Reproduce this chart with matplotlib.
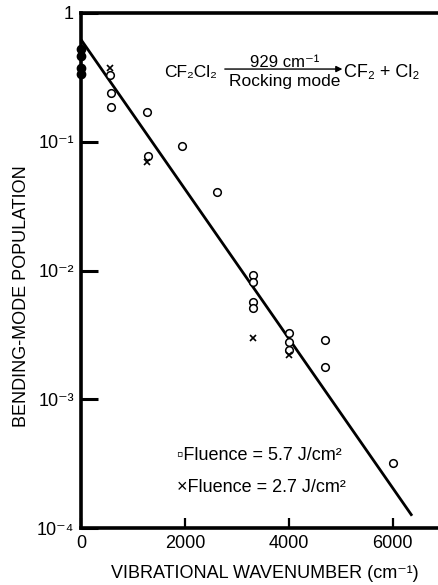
import numpy as np
import matplotlib
matplotlib.use("Agg")
from matplotlib import pyplot as plt
from matplotlib.ticker import FixedLocator, FixedFormatter

plt.rcParams['font.family'] = ['Liberation Sans', 'DejaVu Sans']

# fluence 5.7 J/cm2 (open circles)
wn_57 = [560, 575, 575, 1270, 1290, 1940, 2620, 3300, 3300, 3300, 3300,
         4000, 4000, 4000, 4690, 4690, 6000]
pop_57 = [0.33, 0.24, 0.187, 0.171, 0.078, 0.092, 0.041, 0.0092, 0.0081,
          0.0057, 0.0051, 0.0033, 0.0028, 0.0024, 0.0029, 0.0018, 3.2e-4]

# fluence 2.7 J/cm2 (crosses)
wn_27 = [560, 1270, 3300, 4000]
pop_27 = [0.375, 0.069, 0.0030, 0.0022]

# points sitting on the v=0 axis
wn_0 = [0, 0, 0, 0]
pop_0 = [0.52, 0.465, 0.375, 0.337]

# straight-line fit on the log plot
fit_wn = [0, 6370]
fit_pop = [0.62, 1.25e-4]

y_ticks = [1e-4, 1e-3, 1e-2, 1e-1, 1]
y_labels = ['10⁻⁴', '10⁻³', '10⁻²', '10⁻¹', '1']
x_ticks = [0, 2000, 4000, 6000]
x_labels = ['0', '2000', '4000', '6000']

fig = plt.figure(figsize=(4.38, 5.85), dpi=100)
ax = fig.add_axes([0.185, 0.097, 0.815, 0.881])

ax.plot(fit_wn, fit_pop, color='black', lw=2.0, solid_capstyle='butt')
ax.plot(wn_57, pop_57, linestyle='none', marker='o', ms=5.5, mfc='white',
        mec='black', mew=1.1)
ax.plot(wn_27, pop_27, linestyle='none', marker='x', ms=4.5, color='black',
        mew=1.2)
ax.plot(wn_0, pop_0, linestyle='none', marker='o', ms=6, color='black',
        clip_on=False, zorder=5)

ax.set_yscale('log')
ax.set_ylim(1e-4, 1)
ax.set_xlim(0, 6870)

ax.yaxis.set_major_locator(FixedLocator(y_ticks))
ax.yaxis.set_major_formatter(FixedFormatter(y_labels))
ax.yaxis.set_minor_locator(FixedLocator([]))
ax.xaxis.set_major_locator(FixedLocator(x_ticks))
ax.xaxis.set_major_formatter(FixedFormatter(x_labels))

ax.tick_params(axis='y', direction='in', length=12, width=2.2, labelsize=13,
               pad=5)
ax.tick_params(axis='x', direction='in', length=7, width=1.6, labelsize=13,
               pad=5)

for side in ['left', 'top', 'bottom']:
    ax.spines[side].set_linewidth(2.6)
ax.spines['right'].set_visible(False)

ax.set_xlabel('VIBRATIONAL WAVENUMBER (cm⁻¹)', fontsize=13)
ax.xaxis.set_label_coords(0.515, -0.072)
ax.set_ylabel('BENDING-MODE POPULATION', fontsize=13)
ax.yaxis.set_label_coords(-0.143, 0.45)

# reaction scheme
ax.text(0.381, 0.885, 'CF₂Cl₂', transform=ax.transAxes, ha='right',
        va='center', fontsize=12.5)
ax.annotate('', xy=(0.74, 0.891), xytext=(0.395, 0.891),
            xycoords='axes fraction',
            arrowprops=dict(arrowstyle='-|>', color='black', lw=1.0,
                            mutation_scale=9))
ax.text(0.57, 0.889, '929 cm⁻¹', transform=ax.transAxes, ha='center',
        va='bottom', fontsize=12)
ax.text(0.57, 0.882, 'Rocking mode', transform=ax.transAxes, ha='center',
        va='top', fontsize=12.5)
ax.text(0.738, 0.885, 'CF₂ + Cl₂', transform=ax.transAxes, ha='left',
        va='center', fontsize=13)

# fluence key
ax.text(0.269, 0.142, '▫Fluence = 5.7 J/cm²', transform=ax.transAxes,
        ha='left', va='center', fontsize=13)
ax.text(0.269, 0.08, '×Fluence = 2.7 J/cm²', transform=ax.transAxes,
        ha='left', va='center', fontsize=13)

fig.savefig('out.png', dpi=100)
